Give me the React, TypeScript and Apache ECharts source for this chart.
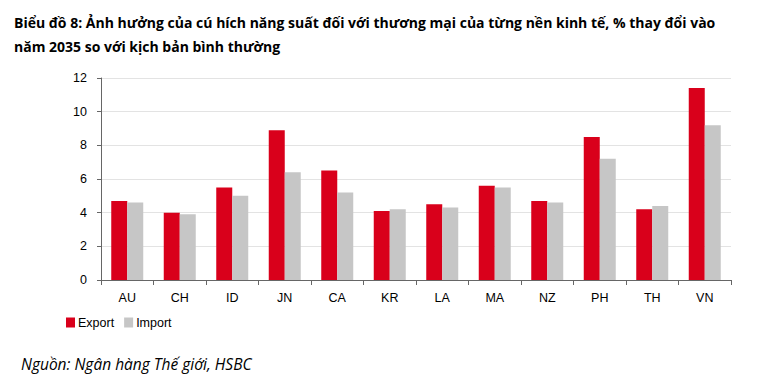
import React, { useEffect, useRef } from "react";
import * as echarts from "echarts";

const categories = ["AU", "CH", "ID", "JN", "CA", "KR", "LA", "MA", "NZ", "PH", "TH", "VN"];
const exportValues = [4.7, 4.0, 5.5, 8.9, 6.5, 4.1, 4.5, 5.6, 4.7, 8.5, 4.2, 11.4];
const importValues = [4.6, 3.9, 5.0, 6.4, 5.2, 4.2, 4.3, 5.5, 4.6, 7.2, 4.4, 9.2];
const titleLines = [
  "Biểu đồ 8: Ảnh hưởng của cú hích năng suất đối với thương mại của từng nền kinh tế, % thay đổi vào",
  "năm 2035 so với kịch bản bình thường",
];
const sourceText = "Nguồn: Ngân hàng Thế giới, HSBC";

export default function App() {
  const ref = useRef<HTMLDivElement>(null);
  useEffect(() => {
    if (!ref.current) return;
    const chart = echarts.init(ref.current, undefined, { renderer: "svg" });
    chart.setOption({
      animation: false,
      backgroundColor: "#ffffff",
      title: [
        {
          text: titleLines.join("\n"),
          left: 9,
          top: 5,
          textStyle: {
            fontFamily: "Open Sans",
            fontWeight: "bold",
            fontSize: 14,
            lineHeight: 24,
            color: "#000000",
          },
        },
        {
          text: sourceText,
          left: 16,
          top: 351,
          textStyle: {
            fontFamily: "Open Sans",
            fontStyle: "italic",
            fontWeight: "normal",
            fontSize: 15.5,
            color: "#000000",
          },
        },
      ],
      legend: {
        left: 61,
        top: 311,
        itemWidth: 9,
        itemHeight: 10,
        itemGap: 10,
        icon: "rect",
        textStyle: { fontFamily: "Liberation Sans", fontSize: 12.5, color: "#000", padding: [0, 0, 0, -2] },
        data: ["Export", "Import"],
      },
      grid: { left: 101, right: 41, top: 78, bottom: 97, containLabel: false },
      xAxis: {
        type: "category",
        data: categories,
        axisLine: { lineStyle: { color: "#666666", width: 1 } },
        axisTick: { show: true, length: 5, lineStyle: { color: "#666666" } },
        axisLabel: { fontFamily: "Liberation Sans", fontSize: 12.5, color: "#000", margin: 11 },
      },
      yAxis: {
        type: "value",
        min: 0,
        max: 12,
        interval: 2,
        axisLine: { show: true, lineStyle: { color: "#666666" } },
        axisTick: { show: true, length: 4, lineStyle: { color: "#666666" } },
        axisLabel: { fontFamily: "Liberation Sans", fontSize: 12.5, color: "#000", margin: 14 },
        splitLine: { lineStyle: { color: "#e3e3e3", width: 1 } },
      },
      series: [
        {
          name: "Export",
          type: "bar",
          data: exportValues,
          barWidth: 16,
          barGap: "0%",
          itemStyle: { color: "#d9001b" },
        },
        {
          name: "Import",
          type: "bar",
          data: importValues,
          barWidth: 16,
          barGap: "0%",
          itemStyle: { color: "#c6c6c6" },
        },
      ],
    });
    return () => chart.dispose();
  }, []);
  return (
    <div
      ref={ref}
      style={{ position: "fixed", left: 0, top: 0, width: 772, height: 377, background: "#fff" }}
    />
  );
}
